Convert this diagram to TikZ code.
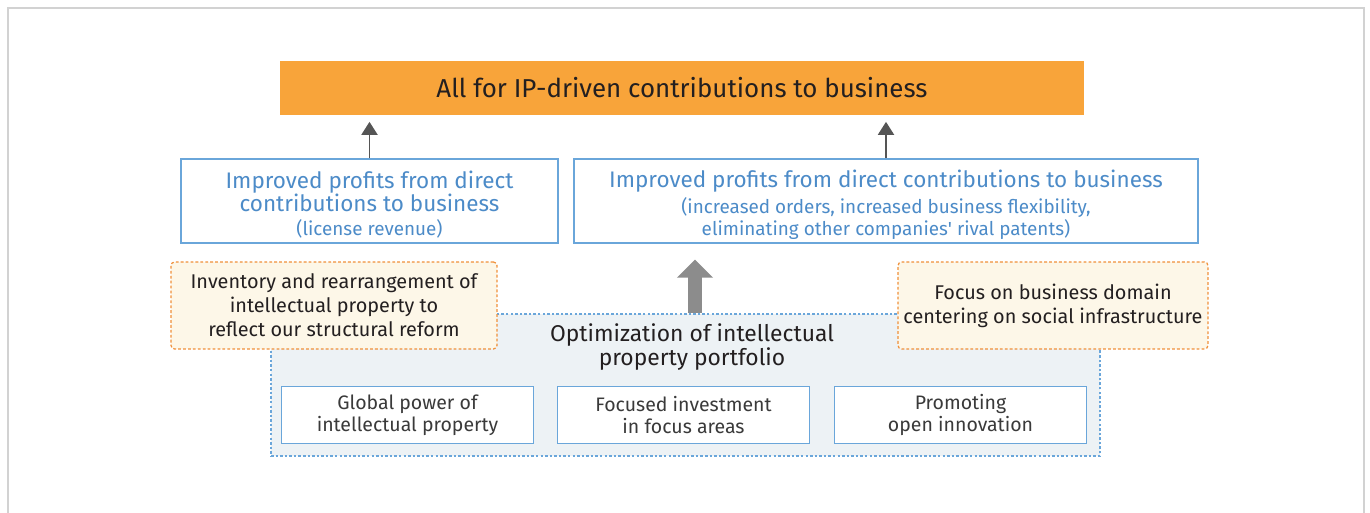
\documentclass[tikz,border=0pt]{standalone}
\usepackage{fontspec}
\setmainfont{Fira Sans}
\usetikzlibrary{positioning,arrows.meta}
\definecolor{ipOrange}{HTML}{F8A43A}
\definecolor{ipBlue}{HTML}{6AA6DA}
\definecolor{ipBlueText}{HTML}{4C8BC8}
\definecolor{noteEdge}{HTML}{F0903A}
\definecolor{noteFill}{HTML}{FDF7E8}
\definecolor{coreFill}{HTML}{EDF2F5}
\definecolor{inkText}{HTML}{231F20}
\definecolor{itemText}{HTML}{3A3A3A}
\definecolor{arrGray}{HTML}{555555}
\definecolor{bigGray}{HTML}{8C8C8C}
\definecolor{frameGray}{HTML}{D2D2D2}
\newcommand{\topstrut}{\rule{0pt}{14pt}}

\begin{document}
\begin{tikzpicture}[x=0.02cm, y=-0.02cm,
  goal/.style={fill=ipOrange, minimum width=16.08cm, minimum height=1.1cm, inner sep=0pt, text=inkText, font=\fontsize{14.75}{16}\selectfont},
  gain/.style={draw=ipBlue, line width=0.8pt, fill=white, minimum height=1.68cm, inner sep=0pt, align=center, text=ipBlueText, font=\fontsize{12.8}{13.6}\selectfont},
  note/.style={draw=noteEdge, line width=0.7pt, dash pattern=on 1.6pt off 1.2pt, fill=noteFill, rounded corners=2pt, minimum height=1.74cm, inner sep=0pt, align=center, text=inkText, font=\fontsize{11.3}{13.6}\selectfont},
  core/.style={draw=ipBlue, line width=0.7pt, dash pattern=on 1.4pt off 1.2pt, fill=coreFill, minimum width=16.58cm, minimum height=2.84cm, inner sep=0pt},
  item/.style={draw=ipBlue, line width=0.8pt, fill=white, minimum width=5.04cm, minimum height=1.14cm, inner sep=0pt, align=center, text=itemText, font=\fontsize{11.1}{12.5}\selectfont},
  arr/.style={-{Triangle[length=2.6mm, width=3.2mm]}, line width=1.1pt, draw=arrGray, fill=arrGray},
  bigarr/.style={-{Triangle[length=3.6mm, width=7mm]}, line width=2.8mm, draw=bigGray, fill=bigGray}]
\useasboundingbox (0,0) rectangle (1370,513);
\draw[frameGray, line width=1.2pt] (8,513) -- (8,8) -- (1364,8) -- (1364,513);

\node[goal] (goal) at (682,88) {All for IP-driven contributions to business};
\node[gain, minimum width=7.54cm] (lgain) at (369.5,201) {\topstrut Improved profits from direct\\ contributions to business\\ {\fontsize{10.75}{11.9}\selectfont (license revenue)}};
\node[gain, minimum width=12.48cm] (rgain) at (886,201) {\topstrut Improved profits from direct contributions to business\\[1.5pt] {\fontsize{10.75}{11.9}\selectfont (increased orders, increased business flexibility,}\\[-1.5pt] {\fontsize{10.75}{11.9}\selectfont eliminating other companies\textquotesingle{} rival patents)}};

\node[core] (core) at (685.5,385) {};
\node[text=inkText, align=center, font=\fontsize{13}{14.2}\selectfont] (title) at (692,347) {Optimization of intellectual\\ property portfolio};
\node[item] (global) at (407.5,415) {Global power of\\ intellectual property};
\node[item] (focus) at (683.5,415) {Focused investment\\ in focus areas};
\node[item] (open) at (960.5,415) {Promoting\\ open innovation};

\node[note, minimum width=6.52cm] (reform) at (334,305.5) {Inventory and rearrangement of\\ intellectual property to\\ reflect our structural reform};
\node[note, minimum width=6.2cm] (domain) at (1053,305.5) {Focus on business domain\\ centering on social infrastructure};

\draw[arr, shorten >=0.12cm] (lgain.north) -- (lgain.north |- goal.south);
\draw[arr, shorten >=0.12cm] (rgain.north) -- (rgain.north |- goal.south);
\draw[bigarr, shorten >=0.32cm] ([xshift=0.19cm]core.north) -- ([xshift=0.19cm]core.north |- rgain.south);
\end{tikzpicture}
\end{document}
